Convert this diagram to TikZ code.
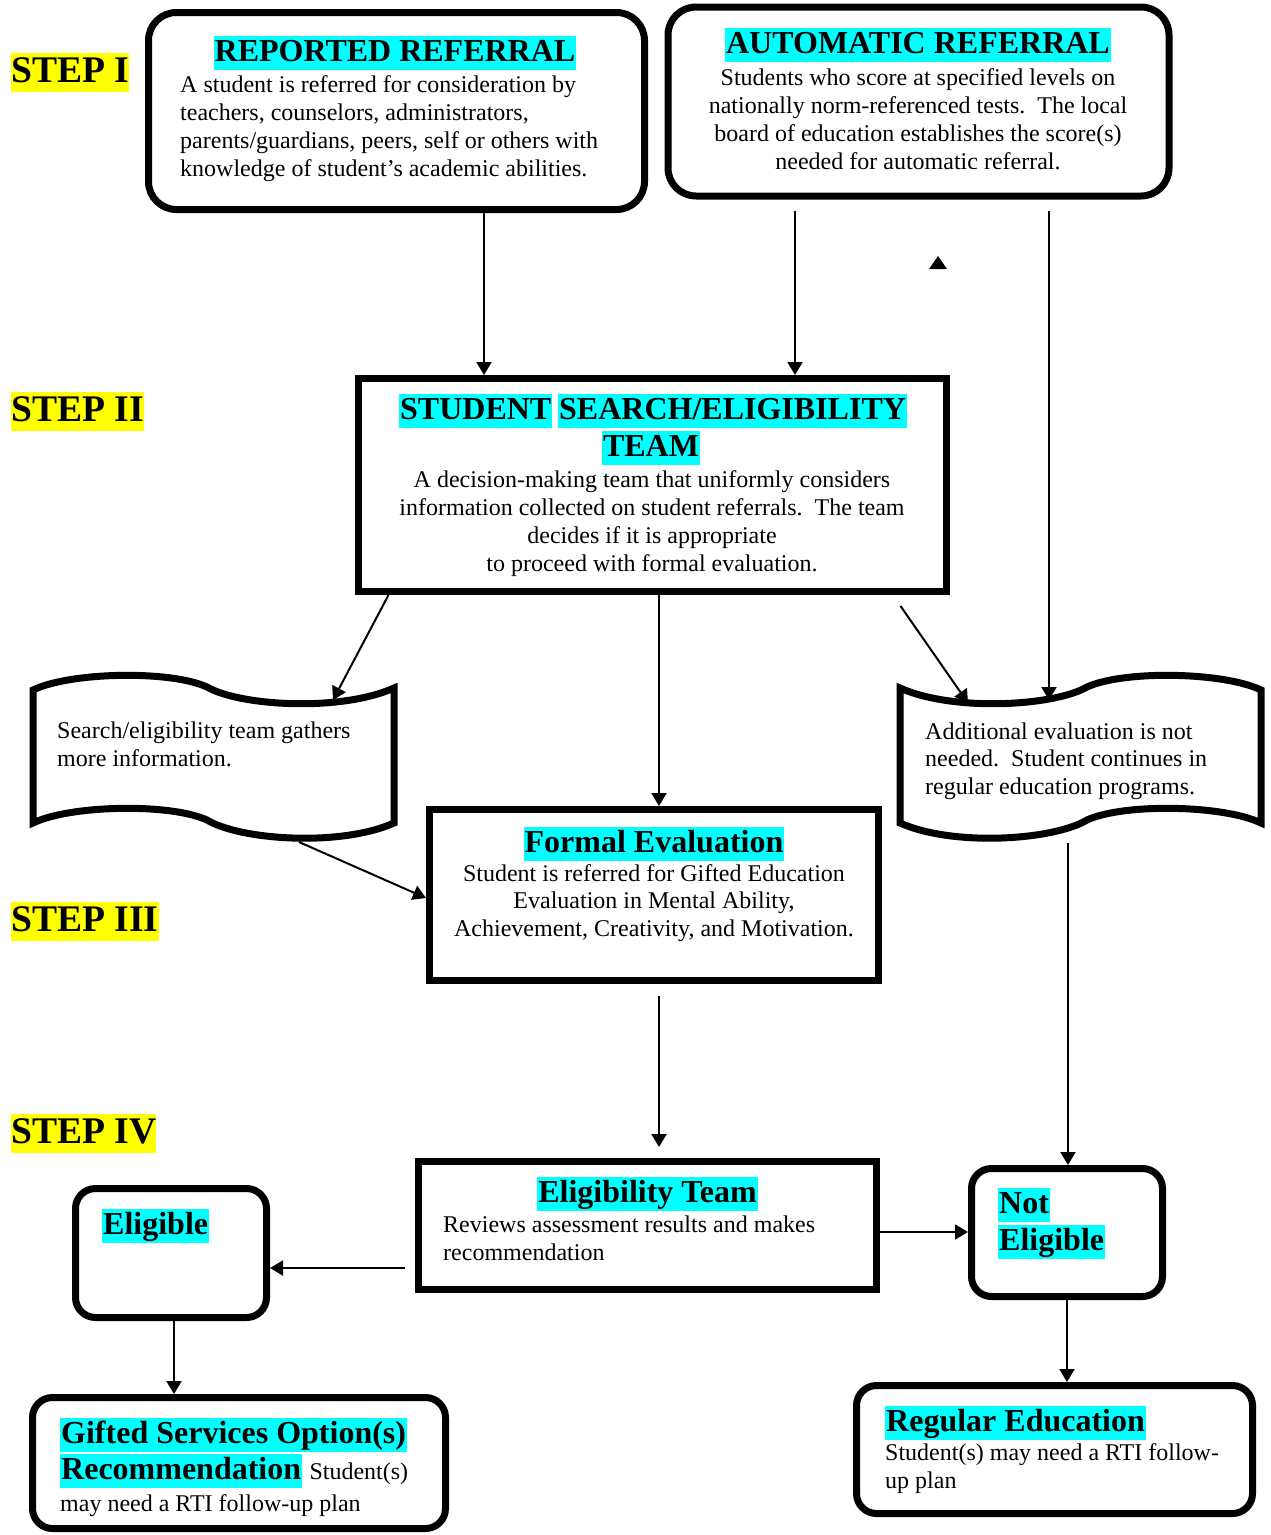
\documentclass[tikz,border=0pt]{standalone}
\usepackage{fontspec}
\setmainfont{Liberation Serif}
\usetikzlibrary{arrows.meta}
\definecolor{hlcyan}{RGB}{0,255,255}
\definecolor{hlyellow}{RGB}{255,255,0}
\tikzset{scroll/.pic={
    \draw[line width=7pt, line join=miter] (33,690) .. controls (70,672) and (170,670) .. (207,687)
        .. controls (240,706) and (340,712) .. (394,688) -- (394,823)
        .. controls (340,847) and (240,840) .. (207,820)
        .. controls (170,803) and (70,805) .. (33,823) -- cycle;}}

\begin{document}
\begin{tikzpicture}[x=1pt, y=-1pt,
    arr/.style={line width=2pt, -{Triangle[length=13pt,width=15pt]}},
    rbox/.style={draw, line width=7pt, rounded corners=28pt},
    sbox/.style={draw, line width=7pt},
    ttl/.style={fill=hlcyan, inner xsep=1pt, inner ysep=0pt, font=\fontsize{32}{36}\selectfont\bfseries, text height=25.5pt, text depth=9pt},
    body/.style={inner sep=0pt, font=\fontsize{24}{27.7}\selectfont},
    steplbl/.style={fill=hlyellow, inner sep=0pt, anchor=base west, font=\fontsize{37.6}{40}\selectfont\bfseries, text height=29pt, text depth=10pt}]
    \useasboundingbox (0,0) rectangle (1270,1535);

    % step labels
    \node[steplbl] (s1) at (11,82) {STEP I};
    \node[steplbl] (s2) at (11,421) {STEP II};
    \node[steplbl] (s3) at (11,931) {STEP III};
    \node[steplbl] (s4) at (11,1143) {STEP IV};

    % boxes
    \node[rbox, minimum width=496, minimum height=197] (rep) at (396.5,111) {};
    \node[rbox, minimum width=501, minimum height=189] (auto) at (918.5,101.5) {};
    \node[sbox, minimum width=588, minimum height=213] (search) at (652.5,485) {};
    \node[sbox, minimum width=449, minimum height=171] (formal) at (654,895) {};
    \node[sbox, minimum width=458, minimum height=128] (elig) at (647.5,1225.5) {};
    \node[rbox, rounded corners=20pt, minimum width=191, minimum height=129] (eligbl) at (171,1253) {};
    \node[rbox, rounded corners=20pt, minimum width=191, minimum height=128] (notel) at (1067,1232.5) {};
    \node[rbox, rounded corners=20pt, minimum width=413, minimum height=131] (gifted) at (239,1463) {};
    \node[rbox, rounded corners=20pt, minimum width=396, minimum height=128] (regular) at (1054.5,1449.5) {};
    \pic at (0,0) {scroll};
    \pic[xscale=-1] at (1294,0) {scroll};

    % texts (base of a multi-line node = its last line)
    \node[ttl, anchor=base] (rept) at (395,61) {REPORTED REFERRAL};
    \node[body, anchor=base west, align=left] (repb) at (180,176) {A student is referred for consideration by\\teachers, counselors, administrators,\\parents/guardians, peers, self or others with\\knowledge of student’s academic abilities.};
    \node[ttl, anchor=base] (autot) at (918,53) {AUTOMATIC REFERRAL};
    \node[body, anchor=base, align=center] (autob) at (918,169) {Students who score at specified levels on\\nationally norm-referenced tests.\ \ The local\\board of education establishes the score(s)\\needed for automatic referral.};
    \node[ttl, anchor=base west] (sst1) at (399,419) {STUDENT};
    \node[ttl, anchor=base west] (sst2) at (558,419) {SEARCH/ELIGIBILITY};
    \node[ttl, anchor=base] (sst3) at (651,456) {TEAM};
    \node[body, anchor=base, align=center] (searchb) at (652,571) {A decision-making team that uniformly considers\\information collected on student referrals.\ \ The team\\decides if it is appropriate\\to proceed with formal evaluation.};
    \node[body, anchor=base west, align=left] (gather) at (57,766.5) {Search/eligibility team gathers\\more information.};
    \node[body, anchor=base west, align=left] (noeval) at (925,794.5) {Additional evaluation is not\\needed.\ \ Student continues in\\regular education programs.};
    \node[ttl, anchor=base] (formalt) at (654,852) {Formal Evaluation};
    \node[body, anchor=base, align=center] (formalb) at (654,936.5) {Student is referred for Gifted Education\\Evaluation in Mental Ability,\\Achievement, Creativity, and Motivation.};
    \node[ttl, anchor=base] (eligt) at (647.5,1202) {Eligibility Team};
    \node[body, anchor=base west, align=left] (eligb) at (443,1260.5) {Reviews assessment results and makes\\recommendation};
    \node[ttl, anchor=base west] (eligblt) at (102,1234) {Eligible};
    \node[ttl, anchor=base west] (notel1) at (998,1213) {Not};
    \node[ttl, anchor=base west] (notel2) at (998,1250) {Eligible};
    \node[ttl, anchor=base west] (gs1) at (60,1443) {Gifted Services Option(s)};
    \node[ttl, anchor=base west] (gs2) at (60,1479) {Recommendation};
    \node[body, anchor=base west] (gs3) at ([xshift=7]gs2.base east) {Student(s)};
    \node[body, anchor=base west] (gs4) at (60,1511) {may need a RTI follow-up plan};
    \node[ttl, anchor=base west] (regt) at (885,1431) {Regular Education};
    \node[body, anchor=base west, align=left] (regb) at (885,1488.5) {Student(s) may need a RTI follow-\\up plan};

    % arrow ends on the scrolls
    \coordinate (gtop) at (333,700);
    \coordinate (gbot) at (299,842);
    \coordinate (ntop1) at (968,703);
    \coordinate (ntop2) at (1049,700);
    \coordinate (nbot) at (1068,843);

    % connectors
    \draw[arr] ([xshift=87.5]rep.south) coordinate (a1) -- (search.north -| a1);
    \draw[arr] ([xshift=-123.5,yshift=-11]auto.south) coordinate (a2) -- (search.north -| a2);
    \draw[arr] ([xshift=130.5,yshift=-11]auto.south) -- (ntop2);
    \draw[arr] ([xshift=33.5]search.south west) -- (gtop);
    \draw[arr] ([xshift=6.5]search.south) coordinate (a5) -- (formal.north -| a5);
    \draw[arr] ([xshift=-49.5,yshift=-11]search.south east) -- (ntop1);
    \draw[arr] (gbot) -- ([yshift=-3]formal.west);
    \draw[arr, shorten >=11pt] ([xshift=5,yshift=-12]formal.south) coordinate (a8) -- (elig.north -| a8);
    \draw[arr] (nbot) -- (notel.north -| nbot);
    \draw[arr] ([xshift=-10,yshift=-42.5]elig.west) coordinate (a10) -- (eligbl.east |- a10);
    \draw[arr] ([yshift=-6.5]elig.east) coordinate (a11) -- (notel.west |- a11);
    \draw[arr] ([xshift=3]eligbl.south) coordinate (a12) -- (gifted.north -| a12);
    \draw[arr] (notel.south) -- (regular.north -| notel.south);
    \fill (929,269) -- (947,269) -- (938,256) -- cycle;
\end{tikzpicture}
\end{document}
